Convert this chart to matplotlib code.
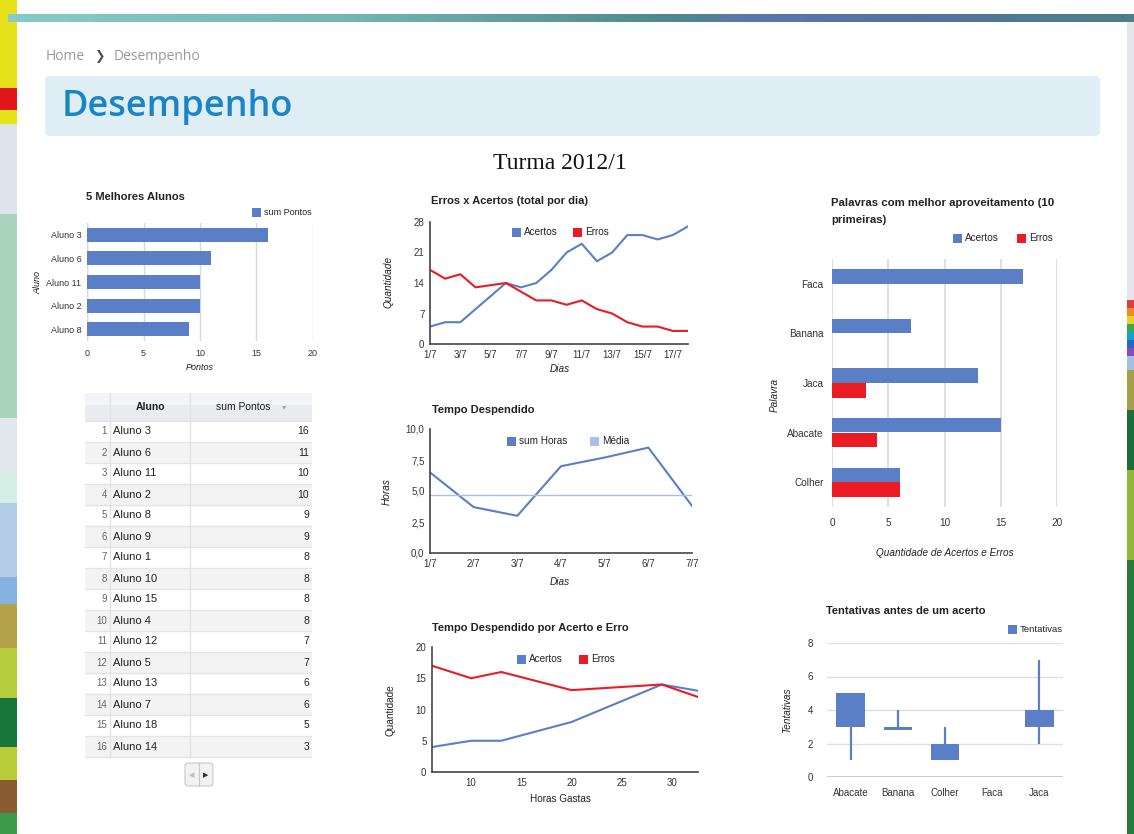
import numpy as np
import matplotlib
matplotlib.use("Agg")
from matplotlib import pyplot as plt
from matplotlib.patches import Rectangle, FancyBboxPatch
from matplotlib.colors import LinearSegmentedColormap

plt.rcParams['font.family'] = ['Liberation Sans', 'DejaVu Sans']

# ---- data ----
alunos = ['Aluno 3', 'Aluno 6', 'Aluno 11', 'Aluno 2', 'Aluno 8', 'Aluno 9', 'Aluno 1', 'Aluno 10',
          'Aluno 15', 'Aluno 4', 'Aluno 12', 'Aluno 5', 'Aluno 13', 'Aluno 7', 'Aluno 18', 'Aluno 14']
pontos = [16, 11, 10, 10, 9, 9, 8, 8, 8, 8, 7, 7, 6, 6, 5, 3]

dias = list(range(1, 19))
acertos_dia = [4, 5, 5, 8, 11, 14, 13, 14, 17, 21, 23, 19, 21, 25, 25, 24, 25, 27]
erros_dia = [17, 15, 16, 13, 13.5, 14, 12, 10, 10, 9, 10, 8, 7, 5, 4, 4, 3, 3]
dias_labels = ['1/7', '3/7', '5/7', '7/7', '9/7', '11/7', '13/7', '15/7', '17/7']

semana = ['1/7', '2/7', '3/7', '4/7', '5/7', '6/7', '7/7']
horas = [6.5, 3.7, 3.0, 7.0, 7.7, 8.5, 3.8]
media_horas = 4.7

horas_gastas = [6.1, 10, 13, 20, 29, 32.6]
acertos_horas = [4, 5, 5, 8, 14, 13]
erros_horas = [17, 15, 16, 13.1, 14, 12]

palavras = ['Faca', 'Banana', 'Jaca', 'Abacate', 'Colher']
acertos_pal = [17, 7, 13, 15, 6]
erros_pal = [0, 0, 3, 4, 6]

tent_palavras = ['Abacate', 'Banana', 'Colher', 'Faca', 'Jaca']
tent_min = [1, 2.8, 1, np.nan, 2]
tent_abre = [3, 2.8, 1, np.nan, 3]
tent_fecha = [5, 3.0, 2, np.nan, 4]
tent_max = [5, 4, 3, np.nan, 7]

BLUE = '#5b7fc6'
RED = '#ec1b23'
LIGHT = '#a9c1ea'
TXT = '#222222'

W, H = 1134, 834
fig = plt.figure(figsize=(W / 100, H / 100), dpi=100)


def box(x0, y0, x1, y1, **kw):
    return fig.add_axes([x0 / W, 1 - y1 / H, (x1 - x0) / W, (y1 - y0) / H], **kw)


# background / page
bg = box(0, 0, W, H, zorder=-5)
bg.set_xlim(0, W)
bg.set_ylim(H, 0)
bg.axis('off')

strip = [(0, 88, '#e6e21a'), (88, 110, '#e0161b'), (110, 124, '#e6e21a'), (124, 214, '#dfe4ec'),
         (214, 418, '#a9d3bb'), (418, 473, '#e2e8ee'), (473, 503, '#d6efe6'), (503, 577, '#b3cde6'),
         (577, 604, '#86b2e0'), (604, 648, '#b4a24a'), (648, 698, '#b5cc3c'), (698, 747, '#17773b'),
         (747, 780, '#b8cc3a'), (780, 813, '#8a5a30'), (813, 834, '#3c9a4a')]
for y0, y1, c in strip:
    bg.add_patch(Rectangle((0, y0), 17, y1 - y0, color=c, lw=0))
rstrip = [(14, 300, '#e4e6ea'), (300, 308, '#e23b3b'), (308, 316, '#f08a24'), (316, 324, '#e8d22a'),
          (324, 332, '#3aa84a'), (332, 340, '#1aa0c8'), (340, 348, '#2a66c8'), (348, 356, '#8a4ab8'),
          (356, 370, '#9cc4e0'), (370, 410, '#a4a04a'), (410, 470, '#1d6e3a'), (470, 560, '#8fb83a'),
          (560, 834, '#2a7a3c')]
for y0, y1, c in rstrip:
    bg.add_patch(Rectangle((1127, y0), 8, y1 - y0, color=c, lw=0))

band = LinearSegmentedColormap.from_list('band', [(0, '#88caca'), (0.3, '#76b4b4'), (0.5, '#5c9696'),
                                                  (0.58, '#4f8a8e'), (0.66, '#5878a8'), (0.8, '#5274a0'),
                                                  (1, '#4d7e8c')])
bg.imshow(np.linspace(0, 1, 300)[None, :], cmap=band, aspect='auto', extent=(8, W, 22, 14), zorder=1)
bg.add_patch(FancyBboxPatch((17, 23), 1110, 900, boxstyle='round,pad=0,rounding_size=10',
                            fc='white', ec='none', zorder=2))
bg.add_patch(FancyBboxPatch((45, 76), 1055, 60, boxstyle='round,pad=0,rounding_size=5',
                            fc='#deeef4', ec='none', zorder=3))
bg.text(46, 56, 'Home', fontsize=10, color='#9a9a9a', family=['Open Sans', 'DejaVu Sans'],
        va='center', zorder=4)
bg.text(94, 56, '\u276f', fontsize=9, color='#555555', family=['DejaVu Sans'], va='center', zorder=4)
bg.text(114, 56, 'Desempenho', fontsize=10, color='#9a9a9a', family=['Open Sans', 'DejaVu Sans'],
        va='center', zorder=4)
bg.text(62, 107, 'Desempenho', fontsize=26, color='#1a85c6', family=['Open Sans', 'DejaVu Sans'],
        fontweight='semibold', va='center', zorder=4)
bg.text(560, 163, 'Turma 2012/1', fontsize=17, color='#111111', family=['Liberation Serif'],
        ha='center', va='center', zorder=4)

# overlay for legends and titles
ov = box(0, 0, W, H, zorder=5)
ov.set_xlim(0, W)
ov.set_ylim(H, 0)
ov.axis('off')
ov.patch.set_alpha(0)


def legend_item(x, y, color, label, size=7.2):
    ov.add_patch(Rectangle((x, y - 4.5), 9, 9, color=color, lw=0))
    ov.text(x + 12, y, label, fontsize=size, color=TXT, va='center')


def title(x, y, s, size=8):
    ov.text(x, y, s, fontsize=size, fontweight='bold', color=TXT, va='center')


def axis_title(x, y, s, rot=0, italic=True):
    ov.text(x, y, s, fontsize=7.2, style='italic' if italic else 'normal', color=TXT,
            ha='center', va='center', rotation=rot)


def gstyle(ax, lines=True, size=7):
    ax.patch.set_alpha(0)
    for s in ax.spines.values():
        s.set_visible(False)
    if lines:
        for s in ('left', 'bottom'):
            ax.spines[s].set_visible(True)
            ax.spines[s].set_color('#444444')
            ax.spines[s].set_linewidth(1.2)
    ax.tick_params(length=0, labelsize=size, colors='#333333', pad=4)


# ---- 5 Melhores Alunos ----
ax1 = box(87, 223, 313, 341)
gstyle(ax1, lines=False, size=6.5)
ax1.barh(range(5), pontos[:5], height=0.6, color=BLUE, zorder=2)
ax1.set_xlim(0, 20)
ax1.set_ylim(4.5, -0.5)
ax1.set_xticks([0, 5, 10, 15, 20])
ax1.set_yticks(range(5))
ax1.set_yticklabels(alunos[:5])
ax1.grid(axis='x', color='#d9d9d9', lw=1, zorder=0)
ax1.axvline(0, color='#bdbdbd', lw=1, zorder=1)
ax1.tick_params(axis='x', pad=6)
ov.text(200, 367, 'Pontos', fontsize=6.5, style='italic', color=TXT, ha='center', va='center')
ov.text(38, 282, 'Aluno', fontsize=6.5, style='italic', color=TXT, ha='center', va='center', rotation=90)
title(86, 197, '5 Melhores Alunos')
legend_item(252, 212, BLUE, 'sum Pontos', size=6.5)

# ---- table ----
tb = box(85, 393, 312, 760)
tb.set_xlim(85, 312)
tb.set_ylim(760, 393)
tb.axis('off')
tb.add_patch(Rectangle((85, 393), 227, 28, color='#e9ebef', lw=0))
tb.add_patch(Rectangle((85, 393), 227, 12, color='#f3f4f7', lw=0))
tb.text(150, 407, 'Aluno', fontsize=7.5, fontweight='bold', color=TXT, ha='center', va='center')
tb.text(243, 407, 'sum Pontos', fontsize=7.5, color=TXT, ha='center', va='center')
tb.text(284, 408, '\u25be', fontsize=6, color='#aaaaaa', ha='center', va='center')
for i, (nome, pt) in enumerate(zip(alunos, pontos)):
    y0 = 421 + 21 * i
    if i % 2 == 1:
        tb.add_patch(Rectangle((85, y0), 227, 21, color='#f3f3f3', lw=0))
    tb.plot([85, 312], [y0, y0], color='#e4e4e4', lw=1)
    tb.text(107, y0 + 10.5, str(i + 1), fontsize=7, color='#666666', ha='right', va='center')
    tb.text(113, y0 + 10.5, nome, fontsize=8, color=TXT, va='center')
    tb.text(309, y0 + 10.5, str(pt), fontsize=7.5, color=TXT, ha='right', va='center')
tb.plot([85, 312], [757, 757], color='#e4e4e4', lw=1)
for xs in (110, 190):
    tb.plot([xs, xs], [393, 757], color='#e4e4e4', lw=1)
ov.add_patch(FancyBboxPatch((185, 763), 28, 23, boxstyle='round,pad=0,rounding_size=3',
                            fc='#f2f2f2', ec='#c8c8c8', lw=0.8))
ov.plot([199, 199], [763, 786], color='#c8c8c8', lw=0.8)
ov.text(192, 775, '\u25c0', fontsize=5, color='#bbbbbb', ha='center', va='center', family=['DejaVu Sans'])
ov.text(206, 775, '\u25b6', fontsize=5, color='#333333', ha='center', va='center', family=['DejaVu Sans'])

# ---- Erros x Acertos ----
ax2 = box(430, 222, 688, 344)
gstyle(ax2)
ax2.plot(dias, acertos_dia, color=BLUE, lw=1.5)
ax2.plot(dias, erros_dia, color=RED, lw=1.5)
ax2.set_xlim(1, 18)
ax2.set_ylim(0, 28)
ax2.set_yticks([0, 7, 14, 21, 28])
ax2.set_xticks(range(1, 18, 2))
ax2.set_xticklabels(dias_labels)
title(431, 201, 'Erros x Acertos (total por dia)')
legend_item(512, 232, BLUE, 'Acertos')
legend_item(573, 232, RED, 'Erros')
axis_title(560, 369, 'Dias')
axis_title(389, 282, 'Quantidade', rot=90)

# ---- Tempo Despendido ----
ax3 = box(430, 429, 692, 553)
gstyle(ax3)
ax3.plot(range(7), horas, color=BLUE, lw=1.5)
ax3.plot(range(7), [media_horas] * 7, color=LIGHT, lw=1)
ax3.set_xlim(0, 6)
ax3.set_ylim(0, 10)
ax3.set_yticks([0, 2.5, 5, 7.5, 10])
ax3.set_yticklabels(['0,0', '2,5', '5,0', '7,5', '10,0'])
ax3.set_xticks(range(7))
ax3.set_xticklabels(semana)
title(432, 410, 'Tempo Despendido')
legend_item(507, 441, BLUE, 'sum Horas')
legend_item(590, 441, LIGHT, 'Média')
axis_title(560, 582, 'Dias')
axis_title(387, 492, 'Horas', rot=90)

# ---- Tempo Despendido por Acerto e Erro ----
ax4 = box(432, 647, 698, 772)
gstyle(ax4)
ax4.plot(horas_gastas, acertos_horas, color=BLUE, lw=1.5)
ax4.plot(horas_gastas, erros_horas, color=RED, lw=1.5)
ax4.set_xlim(6.1, 32.6)
ax4.set_ylim(0, 20)
ax4.set_yticks([0, 5, 10, 15, 20])
ax4.set_xticks([10, 15, 20, 25, 30])
title(432, 628, 'Tempo Despendido por Acerto e Erro')
legend_item(517, 659, BLUE, 'Acertos')
legend_item(579, 659, RED, 'Erros')
axis_title(560, 799, 'Horas Gastas', italic=False)
axis_title(390, 710, 'Quantidade', rot=90, italic=False)

# ---- Palavras com melhor aproveitamento ----
ax5 = box(832, 259, 1057, 507)
gstyle(ax5, lines=False, size=7.2)
pos = np.arange(len(palavras))
ax5.barh(pos - 0.15, acertos_pal, height=0.29, color=BLUE, zorder=2)
ax5.barh(pos + 0.15, erros_pal, height=0.29, color=RED, zorder=2)
ax5.set_xlim(0, 20)
ax5.set_ylim(4.5, -0.5)
ax5.set_xticks([0, 5, 10, 15, 20])
ax5.set_yticks(pos)
ax5.set_yticklabels(palavras)
ax5.grid(axis='x', color='#d9d9d9', lw=1.2, zorder=0)
ax5.tick_params(axis='x', pad=8)
ax5.tick_params(axis='y', pad=6)
title(831, 203, 'Palavras com melhor aproveitamento (10', size=8.2)
title(831, 220, 'primeiras)', size=8.2)
legend_item(953, 238, BLUE, 'Acertos')
legend_item(1017, 238, RED, 'Erros')
axis_title(945, 553, 'Quantidade de Acertos e Erros')
axis_title(775, 395, 'Palavra', rot=90)

# ---- Tentativas antes de um acerto ----
ax6 = box(827, 643, 1063, 777)
gstyle(ax6, lines=False)
cx = np.arange(len(tent_palavras))
lo = np.array(tent_abre)
hi = np.array(tent_fecha)
ax6.vlines(cx, tent_min, tent_max, color=BLUE, lw=1.6, zorder=2)
ax6.bar(cx, hi - lo, bottom=lo, width=0.6, color=BLUE, zorder=3)
ax6.set_xlim(-0.5, 4.5)
ax6.set_ylim(0, 8)
ax6.set_yticks([0, 2, 4, 6, 8])
ax6.set_xticks(cx)
ax6.set_xticklabels(tent_palavras)
ax6.grid(axis='y', color='#e0e0e0', lw=1, zorder=0)
ax6.axhline(0, color='#bdbdbd', lw=1.2, zorder=1)
ax6.tick_params(axis='y', pad=10)
ax6.tick_params(axis='x', pad=8)
title(826, 611, 'Tentativas antes de um acerto')
legend_item(1008, 629, BLUE, 'Tentativas', size=6.8)
axis_title(787, 710, 'Tentativas', rot=90)

fig.savefig('out.png', dpi=100)
